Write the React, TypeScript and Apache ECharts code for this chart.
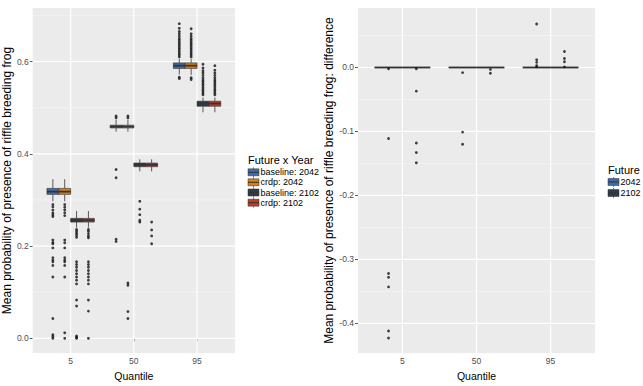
import React, { useEffect, useRef } from "react";
import * as echarts from "echarts";

// ---------- data ----------
const quantiles = ["5", "50", "95"];

const leftGroups = ["baseline: 2042", "crdp: 2042", "baseline: 2102", "crdp: 2102"];
const leftColors = ["#3F6BAA", "#D67F12", "#2F3B4C", "#C23A2A"];

// box stats per quantile: [lowWhisker, q1, median, q3, highWhisker]
const baseline2042Box = [
  [0.297, 0.312, 0.318, 0.325, 0.345],
  [0.448, 0.456, 0.459, 0.462, 0.474],
  [0.572, 0.585, 0.591, 0.597, 0.606],
];
const crdp2042Box = [
  [0.297, 0.312, 0.318, 0.325, 0.345],
  [0.448, 0.456, 0.459, 0.462, 0.474],
  [0.571, 0.585, 0.591, 0.597, 0.606],
];
const baseline2102Box = [
  [0.24, 0.252, 0.256, 0.26, 0.276],
  [0.362, 0.372, 0.376, 0.38, 0.388],
  [0.49, 0.503, 0.509, 0.514, 0.522],
];
const crdp2102Box = [
  [0.24, 0.252, 0.256, 0.26, 0.276],
  [0.362, 0.372, 0.376, 0.38, 0.388],
  [0.49, 0.503, 0.509, 0.514, 0.522],
];

// outliers per quantile
const baseline2042Out = [
  [0.29, 0.285, 0.278, 0.272, 0.268, 0.264, 0.213, 0.208, 0.205, 0.196, 0.175, 0.17, 0.166, 0.158, 0.133, 0.043, 0.008, 0.004, 0.0],
  [0.478, 0.482, 0.366, 0.348, 0.215, 0.21],
  [0.61, 0.614, 0.618, 0.622, 0.626, 0.63, 0.634, 0.638, 0.642, 0.646, 0.65, 0.655, 0.66, 0.665, 0.672, 0.682, 0.566, 0.563],
];
const crdp2042Out = [
  [0.29, 0.284, 0.278, 0.272, 0.266, 0.213, 0.207, 0.196, 0.175, 0.17, 0.166, 0.158, 0.133, 0.012, 0.0],
  [0.478, 0.482, 0.12, 0.115, 0.058, 0.043],
  [0.61, 0.614, 0.618, 0.622, 0.626, 0.63, 0.634, 0.638, 0.642, 0.646, 0.65, 0.655, 0.66, 0.671, 0.565, 0.561],
];
const baseline2102Out = [
  [0.236, 0.232, 0.228, 0.224, 0.219, 0.166, 0.16, 0.154, 0.147, 0.14, 0.133, 0.126, 0.118, 0.083, 0.07, 0.005, 0.002, 0.0],
  [0.297, 0.28, 0.268, 0.256, 0.252],
  [0.528, 0.532, 0.536, 0.54, 0.544, 0.548, 0.552, 0.556, 0.56, 0.565, 0.57, 0.575, 0.58, 0.586, 0.594],
];
const crdp2102Out = [
  [0.236, 0.232, 0.227, 0.222, 0.218, 0.166, 0.16, 0.154, 0.147, 0.14, 0.133, 0.126, 0.118, 0.083, 0.059, 0.0],
  [0.252, 0.235, 0.222, 0.205],
  [0.528, 0.532, 0.536, 0.54, 0.544, 0.548, 0.552, 0.556, 0.56, 0.565, 0.57, 0.575, 0.581, 0.591],
];

const rightGroups = ["2042", "2102"];
const rightColors = ["#3F6BAA", "#2F3B4C"];
const diff2042Box = [
  [0, 0, 0, 0, 0],
  [0, 0, 0, 0, 0],
  [0, 0, 0, 0, 0],
];
const diff2102Box = [
  [0, 0, 0, 0, 0],
  [0, 0, 0, 0, 0],
  [0, 0, 0, 0, 0],
];
const diff2042Out = [
  [-0.002, -0.111, -0.322, -0.328, -0.343, -0.412, -0.423],
  [-0.008, -0.101, -0.12],
  [0.068, 0.012, 0.008, 0.003, 0.001],
];
const diff2102Out = [
  [-0.002, -0.037, -0.118, -0.133, -0.149],
  [-0.003, -0.009],
  [0.025, 0.014, 0.009, 0.001],
];

const leftYTicks = [0, 0.2, 0.4, 0.6];
const leftYMinor = [0.1, 0.3, 0.5, 0.7];
const rightYTicks = [-0.4, -0.3, -0.2, -0.1, 0.0];
const rightYMinor = [-0.35, -0.25, -0.15, -0.05, 0.05];
const xTicks = [1, 2, 3];

// ---------- helpers ----------
const FONT = '"Liberation Sans", Arial, sans-serif';

function boxSeries(name: string, boxes: number[][], color: string, offset: number, width: number, axisIdx: number) {
  return {
    type: "custom",
    name,
    xAxisIndex: axisIdx,
    yAxisIndex: axisIdx,
    z: 3,
    data: boxes.map((b, i) => [i + 1, ...b]),
    encode: { x: 0, y: [1, 2, 3, 4, 5] },
    renderItem: (params: any, api: any) => {
      const xi = api.value(0) + offset;
      const lo = api.coord([xi, api.value(1)])[1];
      const q1 = api.coord([xi, api.value(2)])[1];
      const med = api.coord([xi, api.value(3)])[1];
      const q3 = api.coord([xi, api.value(4)])[1];
      const hi = api.coord([xi, api.value(5)])[1];
      const cx = api.coord([xi, 0])[0];
      const l = api.coord([xi - width / 2, 0])[0];
      const r = api.coord([xi + width / 2, 0])[0];
      const stroke = "#333333";
      return {
        type: "group",
        children: [
          { type: "line", shape: { x1: cx, y1: lo, x2: cx, y2: q1 }, style: { stroke, lineWidth: 0.8 } },
          { type: "line", shape: { x1: cx, y1: q3, x2: cx, y2: hi }, style: { stroke, lineWidth: 0.8 } },
          {
            type: "rect",
            shape: { x: l, y: q3, width: r - l, height: Math.max(q1 - q3, 0) },
            style: { fill: color, stroke, lineWidth: 0.6 },
          },
          { type: "line", shape: { x1: l, y1: med, x2: r, y2: med }, style: { stroke, lineWidth: 1.8 } },
        ],
      };
    },
  };
}

function outlierSeries(name: string, outs: number[][], offset: number, axisIdx: number) {
  const data: number[][] = [];
  outs.forEach((arr, i) => arr.forEach((v) => data.push([i + 1 + offset, v])));
  return {
    type: "scatter",
    name: name + " outliers",
    xAxisIndex: axisIdx,
    yAxisIndex: axisIdx,
    z: 4,
    symbol: "circle",
    symbolSize: 2.8,
    itemStyle: { color: "#111111" },
    data,
  };
}

function gridSeries(axisIdx: number, major: number[], minor: number[]) {
  return {
    type: "custom",
    name: "grid" + axisIdx,
    xAxisIndex: axisIdx,
    yAxisIndex: axisIdx,
    z: 1,
    silent: true,
    data: [[1, 0]],
    encode: { x: 0, y: 1 },
    renderItem: (params: any, api: any) => {
      const cs = params.coordSys;
      const children: any[] = [];
      minor.forEach((v) => {
        const y = api.coord([1, v])[1];
        if (y >= cs.y && y <= cs.y + cs.height)
          children.push({ type: "line", shape: { x1: cs.x, y1: y, x2: cs.x + cs.width, y2: y }, style: { stroke: "#F5F5F5", lineWidth: 0.7 } });
      });
      major.forEach((v) => {
        const y = api.coord([1, v])[1];
        children.push({ type: "line", shape: { x1: cs.x, y1: y, x2: cs.x + cs.width, y2: y }, style: { stroke: "#FFFFFF", lineWidth: 1.2 } });
      });
      xTicks.forEach((v) => {
        const x = api.coord([v, 0])[0];
        children.push({ type: "line", shape: { x1: x, y1: cs.y, x2: x, y2: cs.y + cs.height }, style: { stroke: "#FFFFFF", lineWidth: 1.2 } });
      });
      return { type: "group", children };
    },
  };
}

function xAxis(gridIndex: number) {
  return {
    type: "value",
    gridIndex,
    min: 0.4,
    max: 3.6,
    axisLine: { show: false },
    splitLine: { show: false },
    axisTick: { show: true, length: 3, customValues: xTicks, lineStyle: { color: "#333333", width: 0.8 } },
    axisLabel: {
      customValues: xTicks,
      margin: 3,
      color: "#4D4D4D",
      fontSize: 8.5,
      fontFamily: FONT,
      formatter: (v: number) => quantiles[Math.round(v) - 1] ?? "",
    },
    name: "Quantile",
    nameLocation: "middle",
    nameGap: 13,
    nameTextStyle: { color: "#000000", fontSize: 10.5, fontFamily: FONT },
  };
}

function yAxis(gridIndex: number, min: number, max: number, ticks: number[], name: string) {
  return {
    type: "value",
    gridIndex,
    min,
    max,
    axisLine: { show: false },
    splitLine: { show: false },
    axisTick: { show: true, length: 3, customValues: ticks, lineStyle: { color: "#333333", width: 0.8 } },
    axisLabel: {
      customValues: ticks,
      margin: 4,
      color: "#4D4D4D",
      fontSize: 8.5,
      fontFamily: FONT,
      formatter: (v: number) => v.toFixed(1),
    },
    name,
    nameLocation: "middle",
    nameGap: 18,
    nameTextStyle: { color: "#000000", fontSize: 12, fontFamily: FONT },
  };
}

function legendGraphic(x: number, yTitle: number, title: string, names: string[], colors: string[], yItems: number[]) {
  const children: any[] = [
    {
      type: "text",
      x,
      y: yTitle,
      style: { text: title, fontSize: 11, fontFamily: FONT, fill: "#000000", align: "left", verticalAlign: "middle" },
    },
  ];
  names.forEach((n, i) => {
    const cy = yItems[i];
    children.push(
      { type: "line", shape: { x1: x + 5.5, y1: cy - 5, x2: x + 5.5, y2: cy + 5 }, style: { stroke: "#333333", lineWidth: 0.6 } },
      { type: "rect", shape: { x, y: cy - 3.5, width: 11, height: 7 }, style: { fill: colors[i], stroke: "#333333", lineWidth: 0.5 } },
      { type: "line", shape: { x1: x, y1: cy, x2: x + 11, y2: cy }, style: { stroke: "#333333", lineWidth: 1 } },
      {
        type: "text",
        x: x + 12.5,
        y: cy,
        style: { text: n, fontSize: 9, fontFamily: FONT, fill: "#000000", align: "left", verticalAlign: "middle" },
      }
    );
  });
  return { type: "group", children };
}

export default function App() {
  const ref = useRef<HTMLDivElement>(null);
  useEffect(() => {
    if (!ref.current) return;
    const chart = echarts.init(ref.current, undefined, { renderer: "svg" });
    const leftOffsets = [-0.28125, -0.09375, 0.09375, 0.28125];
    const leftW = 0.1875;
    const rightOffsets = [-0.1875, 0.1875];
    const rightW = 0.375;
    const leftBoxes = [baseline2042Box, crdp2042Box, baseline2102Box, crdp2102Box];
    const leftOuts = [baseline2042Out, crdp2042Out, baseline2102Out, crdp2102Out];
    const rightBoxes = [diff2042Box, diff2102Box];
    const rightOuts = [diff2042Out, diff2102Out];

    const series: any[] = [gridSeries(0, leftYTicks, leftYMinor), gridSeries(1, rightYTicks, rightYMinor)];
    leftGroups.forEach((g, i) => {
      series.push(boxSeries(g, leftBoxes[i], leftColors[i], leftOffsets[i], leftW, 0));
      series.push(outlierSeries(g, leftOuts[i], leftOffsets[i], 0));
    });
    rightGroups.forEach((g, i) => {
      series.push(boxSeries(g, rightBoxes[i], rightColors[i], rightOffsets[i], rightW, 1));
      series.push(outlierSeries(g, rightOuts[i], rightOffsets[i], 1));
    });

    chart.setOption({
      animation: false,
      backgroundColor: "#FFFFFF",
      grid: [
        { left: 31.5, top: 8, width: 203.5, height: 348, show: true, backgroundColor: "#EBEBEB", borderWidth: 0 },
        { left: 358, top: 8, width: 237, height: 348, show: true, backgroundColor: "#EBEBEB", borderWidth: 0 },
      ],
      xAxis: [xAxis(0), xAxis(1)],
      yAxis: [
        yAxis(0, -0.032, 0.716, leftYTicks, "Mean probability of presence of riffle breeding frog"),
        yAxis(1, -0.4465, 0.093, rightYTicks, "Mean probability of presence of riffle breeding frog: difference"),
      ],
      graphic: [
        legendGraphic(248, 160, "Future x Year", leftGroups, leftColors, [172.3, 182.3, 192.5, 202.7]),
        legendGraphic(608, 170, "Future", rightGroups, rightColors, [182, 193]),
      ],
      series,
    });
    return () => chart.dispose();
  }, []);
  return <div ref={ref} style={{ position: "fixed", left: 0, top: 0, width: 643, height: 386 }} />;
}
